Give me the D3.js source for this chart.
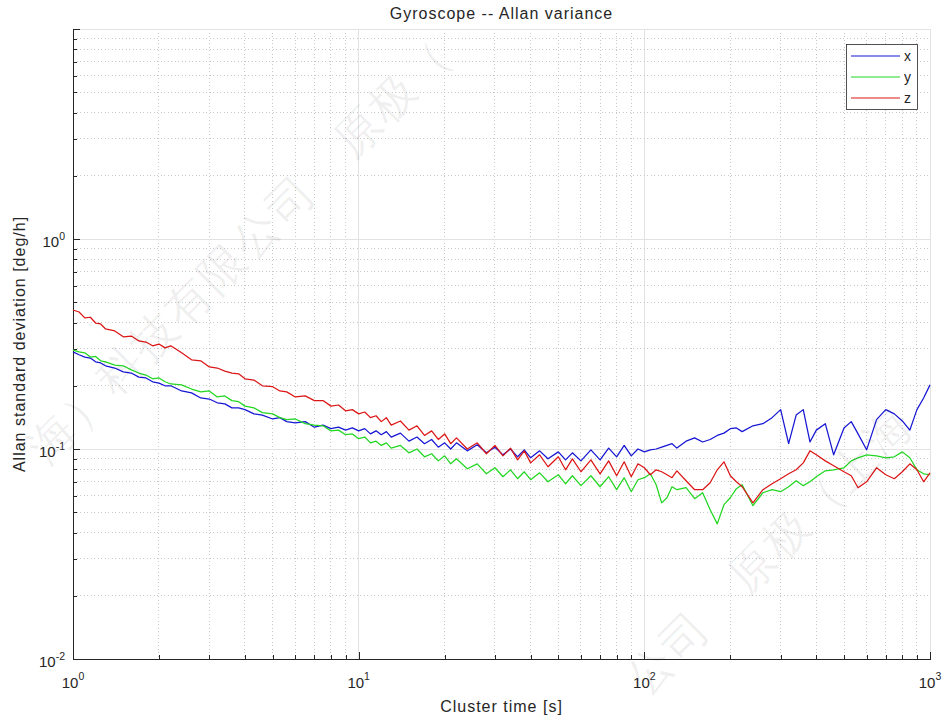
<!DOCTYPE html>
<html>
<head>
<meta charset="utf-8">
<script src="https://cdn.jsdelivr.net/npm/d3@7"></script>
<style>
  body { margin: 0; background: #fff; }
  svg text { font-family: "Liberation Sans", Arial, Helvetica, sans-serif; fill: #262626; }
</style>
</head>
<body>
<svg id="chart" width="946" height="722"></svg>
<script>
// Allan deviation of the three gyro axes.
const tau = [
  1, 1.05, 1.1, 1.15, 1.2, 1.25, 1.3, 1.4, 1.5, 1.6, 1.7, 1.8, 1.9, 2, 2.1, 2.2, 2.4, 2.6, 2.8,
  3, 3.2, 3.4, 3.6, 3.8, 4, 4.3, 4.6, 5, 5.3, 5.6, 6, 6.5, 7, 7.5, 8, 8.5, 9, 9.5,
  10, 10.5, 11, 11.5, 12, 12.5, 13, 14, 15, 16, 17, 18, 19, 20, 21, 22, 24, 26, 28,
  30, 32, 34, 36, 38, 40, 43, 46, 50, 53, 56, 60, 65, 70, 75, 80, 85, 90, 95,
  100, 105, 110, 115, 120, 125, 130, 140, 150, 160, 170, 180, 190, 200, 210, 220, 240, 260, 280,
  300, 320, 340, 360, 380, 400, 430, 460, 500, 530, 560, 600, 650, 700, 750, 800, 850, 900, 950, 1000
];

const sigmaX = [
  0.290, 0.281, 0.274, 0.271, 0.260, 0.257, 0.249, 0.243, 0.233, 0.230, 0.220, 0.218, 0.209, 0.206, 0.200, 0.200, 0.189, 0.185, 0.175,
  0.173, 0.166, 0.164, 0.157, 0.157, 0.154, 0.147, 0.145, 0.139, 0.141, 0.135, 0.133, 0.135, 0.127, 0.130, 0.125, 0.127, 0.123, 0.126,
  0.122, 0.125, 0.118, 0.122, 0.117, 0.121, 0.114, 0.119, 0.109, 0.114, 0.106, 0.111, 0.102, 0.107, 0.100, 0.107, 0.0980, 0.1047, 0.0959,
  0.102, 0.0938, 0.100, 0.0918, 0.0991, 0.0908, 0.0980, 0.0898, 0.0969, 0.0888, 0.0959, 0.0878, 0.0991, 0.0888, 0.101, 0.0918, 0.104, 0.0928, 0.100,
  0.0969, 0.0991, 0.100, 0.102, 0.104, 0.106, 0.101, 0.109, 0.113, 0.108, 0.111, 0.116, 0.119, 0.125, 0.126, 0.121, 0.129, 0.132, 0.141,
  0.154, 0.106, 0.145, 0.154, 0.108, 0.123, 0.132, 0.0938, 0.126, 0.135, 0.118, 0.0991, 0.138, 0.154, 0.147, 0.136, 0.123, 0.154, 0.175, 0.202
];

const sigmaY = [
  0.296, 0.290, 0.287, 0.274, 0.276, 0.263, 0.260, 0.251, 0.249, 0.238, 0.230, 0.225, 0.216, 0.218, 0.209, 0.204, 0.202, 0.193, 0.187,
  0.189, 0.177, 0.179, 0.170, 0.168, 0.160, 0.157, 0.149, 0.147, 0.141, 0.138, 0.139, 0.132, 0.130, 0.129, 0.122, 0.123, 0.117, 0.118,
  0.112, 0.114, 0.107, 0.109, 0.104, 0.107, 0.101, 0.104, 0.0959, 0.100, 0.0918, 0.0949, 0.0878, 0.0928, 0.0850, 0.0898, 0.0805, 0.0850, 0.0762,
  0.0814, 0.0738, 0.0796, 0.0722, 0.0779, 0.0714, 0.0770, 0.0698, 0.0754, 0.0683, 0.0746, 0.0669, 0.0746, 0.0661, 0.0738, 0.0640, 0.0730, 0.0626, 0.0714,
  0.0730, 0.0762, 0.0676, 0.0554, 0.0586, 0.0661, 0.0640, 0.0654, 0.0580, 0.0619, 0.0514, 0.0440, 0.0543, 0.0586, 0.0647, 0.0676, 0.0537, 0.0619, 0.0640,
  0.0626, 0.0661, 0.0706, 0.0669, 0.0698, 0.0738, 0.0787, 0.0796, 0.0814, 0.0878, 0.0908, 0.0938, 0.0928, 0.0908, 0.0918, 0.0969, 0.0908, 0.0796, 0.0762, 0.0754
];

const sigmaZ = [
  0.459, 0.449, 0.421, 0.424, 0.398, 0.394, 0.373, 0.365, 0.342, 0.345, 0.327, 0.323, 0.310, 0.316, 0.303, 0.310, 0.287, 0.266, 0.263,
  0.246, 0.243, 0.235, 0.230, 0.228, 0.216, 0.213, 0.200, 0.198, 0.189, 0.187, 0.177, 0.179, 0.170, 0.170, 0.160, 0.162, 0.152, 0.154,
  0.147, 0.150, 0.141, 0.144, 0.135, 0.141, 0.130, 0.136, 0.123, 0.129, 0.116, 0.122, 0.111, 0.118, 0.106, 0.113, 0.100, 0.107, 0.0949,
  0.104, 0.0928, 0.101, 0.0888, 0.0980, 0.0859, 0.0938, 0.0823, 0.0918, 0.0796, 0.0898, 0.0779, 0.0888, 0.0762, 0.0878, 0.0746, 0.0869, 0.0738, 0.0850,
  0.0814, 0.0754, 0.0796, 0.0779, 0.0754, 0.0730, 0.0787, 0.0706, 0.0640, 0.0640, 0.0691, 0.0796, 0.0869, 0.0746, 0.0698, 0.0661, 0.0554, 0.0640, 0.0683,
  0.0722, 0.0762, 0.0796, 0.0859, 0.0980, 0.0938, 0.0878, 0.0832, 0.0779, 0.0746, 0.0654, 0.0698, 0.0814, 0.0754, 0.0722, 0.0779, 0.0850, 0.0796, 0.0698, 0.0770
];

const seriesNames = ["x", "y", "z"];
const seriesValues = [sigmaX, sigmaY, sigmaZ];
const seriesColors = ["#1616d4", "#22d622", "#dc1616"];

const xLabelTicks = [1, 10, 100, 1000];
const xLabelExps = ["0", "1", "2", "3"];
const yLabelTicks = [0.01, 0.1, 1];
const yLabelExps = ["-2", "-1", "0"];

// watermark, repeated along two diagonals; blank = full-width gap
const watermarkChars = Array.from("原极（上海）科技有限公司　原极（上海）科技有限公司　原极（上海）科技有限公司");

const svg = d3.select("#chart");
const W = 946, H = 722;
const L = 73, R = 930, T = 29, B = 659;
const ink = "#262626";

const x = d3.scaleLog().domain([1, 1000]).range([L, R]);
const y = d3.scaleLog().domain([0.01, 10]).range([B, T]);

const isMajor = (v) => Math.abs(Math.log10(v) - Math.round(Math.log10(v))) < 1e-6;
const xTicks = x.ticks();
const yTicks = y.ticks();

// grid: solid light lines on decades, dotted on the minor ticks
const grid = svg.append("g").attr("shape-rendering", "crispEdges");
grid.selectAll("line.v").data(xTicks).join("line").attr("class", "v")
  .attr("x1", (d) => x(d)).attr("x2", (d) => x(d)).attr("y1", T).attr("y2", B)
  .attr("stroke", (d) => isMajor(d) ? "#e2e2e2" : "#c8c8c8")
  .attr("stroke-dasharray", (d) => isMajor(d) ? null : "1,2.5");
grid.selectAll("line.h").data(yTicks).join("line").attr("class", "h")
  .attr("y1", (d) => y(d)).attr("y2", (d) => y(d)).attr("x1", L).attr("x2", R)
  .attr("stroke", (d) => isMajor(d) ? "#e2e2e2" : "#c8c8c8")
  .attr("stroke-dasharray", (d) => isMajor(d) ? null : "1,2.5");

// axes with inward ticks, MATLAB style (no box)
function styleAxis(g) {
  g.selectAll("path, line").attr("stroke", ink);
  g.attr("shape-rendering", "crispEdges");
}
svg.append("g").attr("transform", `translate(0,${B})`)
  .call(d3.axisBottom(x).tickValues(xTicks.filter((d) => !isMajor(d))).tickSizeInner(-4).tickSizeOuter(0).tickFormat(""))
  .call(styleAxis);
svg.append("g").attr("transform", `translate(0,${B})`)
  .call(d3.axisBottom(x).tickValues(xTicks.filter(isMajor)).tickSizeInner(-7).tickSizeOuter(0).tickFormat(""))
  .call(styleAxis);
svg.append("g").attr("transform", `translate(${L},0)`)
  .call(d3.axisLeft(y).tickValues(yTicks.filter((d) => !isMajor(d))).tickSizeInner(-4).tickSizeOuter(0).tickFormat(""))
  .call(styleAxis);
svg.append("g").attr("transform", `translate(${L},0)`)
  .call(d3.axisLeft(y).tickValues(yTicks.filter(isMajor)).tickSizeInner(-7).tickSizeOuter(0).tickFormat(""))
  .call(styleAxis);

// tick labels as 10 with a superscript exponent
const xl = svg.append("g").selectAll("text").data(xLabelTicks).join("text")
  .attr("x", (d) => x(d)).attr("y", B + 29).attr("text-anchor", "middle").attr("font-size", 15);
xl.append("tspan").text("10");
xl.append("tspan").attr("dy", -8).attr("font-size", 10.5).text((d, i) => xLabelExps[i]);

const yl = svg.append("g").selectAll("text").data(yLabelTicks).join("text")
  .attr("x", 65).attr("y", (d) => y(d) + 8).attr("text-anchor", "end").attr("font-size", 15);
yl.append("tspan").text("10");
yl.append("tspan").attr("dy", -7).attr("font-size", 10.5).text((d, i) => yLabelExps[i]);

// series
const line = d3.line().x((d) => x(d[0])).y((d) => y(d[1]));
seriesValues.forEach((vals, i) => {
  svg.append("path")
    .datum(tau.map((t, k) => [t, vals[k]]))
    .attr("d", line)
    .attr("fill", "none")
    .attr("stroke", seriesColors[i])
    .attr("stroke-width", 1.25)
    .attr("stroke-linejoin", "round");
});

// titles
svg.append("text").attr("x", (L + R) / 2).attr("y", 19).attr("text-anchor", "middle")
  .attr("font-size", 16).attr("letter-spacing", 1).text("Gyroscope -- Allan variance");
svg.append("text").attr("x", (L + R) / 2).attr("y", 712).attr("text-anchor", "middle")
  .attr("font-size", 16).attr("letter-spacing", 1).text("Cluster time [s]");
svg.append("text").attr("transform", `translate(25,${(T + B) / 2}) rotate(-90)`).attr("text-anchor", "middle")
  .attr("font-size", 16).attr("letter-spacing", 1).text("Allan standard deviation [deg/h]");

// legend
const lg = svg.append("g");
lg.append("rect").attr("x", 846.5).attr("y", 44.5).attr("width", 71).attr("height", 65)
  .attr("fill", "#fff").attr("stroke", ink).attr("stroke-width", 0.8);
seriesNames.forEach((name, i) => {
  const ry = 56 + i * 21;
  lg.append("line").attr("x1", 851).attr("x2", 900).attr("y1", ry).attr("y2", ry)
    .attr("stroke", seriesColors[i]).attr("stroke-width", 1.2);
  lg.append("text").attr("x", 904).attr("y", ry + 4.5).attr("font-size", 14).text(name);
});

// faint diagonal watermark: one glyph per step, only those fully inside the picture
const step = 34, half = 36;
const glyphs = [];
[[-84, 574], [310, 1010]].forEach(([cx, cy]) => {
  watermarkChars.forEach((ch, k) => {
    const gx = cx + k * step, gy = cy - k * step;
    if (ch !== "　" && gx > half && gx < W - half && gy > half && gy < H - half) glyphs.push({ ch, gx, gy });
  });
});
svg.append("g").attr("pointer-events", "none").selectAll("text").data(glyphs).join("text")
  .attr("transform", (d) => `translate(${d.gx},${d.gy}) rotate(-45)`)
  .attr("text-anchor", "middle").attr("dominant-baseline", "central")
  .attr("font-family", "Noto Sans CJK SC").attr("font-size", 46)
  .style("fill", "#000").style("fill-opacity", 0.06)
  .text((d) => d.ch);
</script>
</body>
</html>
